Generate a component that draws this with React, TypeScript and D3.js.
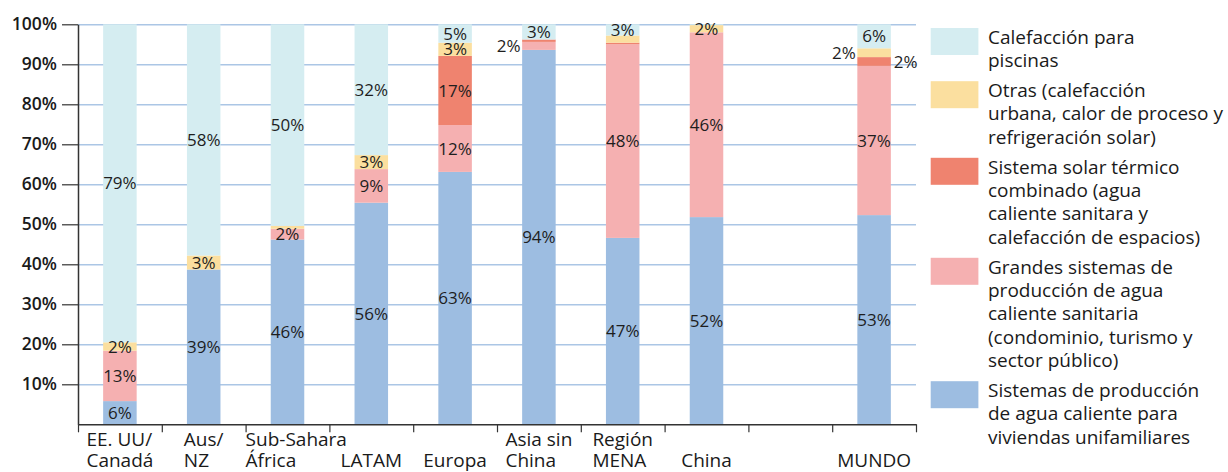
import React, { useRef, useEffect } from 'react';
import * as d3 from 'd3';

// categories (one entry per slot, lines of the label); slot 8 is empty in the source
const categories: string[][] = [
    ['EE. UU/', 'Canadá'],
    ['Aus/', 'NZ'],
    ['Sub-Sahara', 'África'],
    ['LATAM'],
    ['Europa'],
    ['Asia sin', 'China'],
    ['Región', 'MENA'],
    ['China'],
    [],
    ['MUNDO'],
];

// shares in %, bottom to top of each stack
const unifamiliares = [5.8, 38.7, 46.2, 55.4, 63.1, 93.6, 46.6, 51.8, null, 52.3];
const grandes = [12.6, 0, 2.7, 8.4, 11.7, 2.0, 48.4, 46.2, null, 37.3];
const combinado = [0, 0, 0, 0, 17.3, 0.6, 0.4, 0, null, 2.2];
const otras = [2.1, 3.5, 0.7, 3.5, 3.3, 0, 1.8, 1.8, null, 2.2];
const piscinas = [79.5, 57.8, 50.4, 32.7, 4.6, 3.8, 2.8, 0.2, null, 6.0];

// printed data labels
const unifamiliaresLbl = ['6%', '39%', '46%', '56%', '63%', '94%', '47%', '52%', null, '53%'];
const grandesLbl = ['13%', null, '2%', '9%', '12%', '2%', '48%', '46%', null, '37%'];
const combinadoLbl = [null, null, null, null, '17%', null, null, null, null, '2%'];
const otrasLbl = ['2%', '3%', null, '3%', '3%', null, null, '2%', null, '2%'];
const piscinasLbl = ['79%', '58%', '50%', '32%', '5%', '3%', '3%', null, null, '6%'];

const yTicks = [10, 20, 30, 40, 50, 60, 70, 80, 90, 100];

const seriesKeys = ['unifamiliares', 'grandes', 'combinado', 'otras', 'piscinas'];
const seriesValues: Record<string, (number | null)[]> = { unifamiliares, grandes, combinado, otras, piscinas };
const seriesLabels: Record<string, (string | null)[]> = {
    unifamiliares: unifamiliaresLbl,
    grandes: grandesLbl,
    combinado: combinadoLbl,
    otras: otrasLbl,
    piscinas: piscinasLbl,
};

// legend, top to bottom
const legendKeys = ['piscinas', 'otras', 'combinado', 'grandes', 'unifamiliares'];
const legendText: Record<string, string[]> = {
    piscinas: ['Calefacción para', 'piscinas'],
    otras: ['Otras (calefacción', 'urbana, calor de proceso y', 'refrigeración solar)'],
    combinado: ['Sistema solar térmico', 'combinado (agua', 'caliente sanitara y', 'calefacción de espacios)'],
    grandes: ['Grandes sistemas de', 'producción de agua', 'caliente sanitaria', '(condominio, turismo y', 'sector público)'],
    unifamiliares: ['Sistemas de producción', 'de agua caliente para', 'viviendas unifamiliares'],
};

const colors: Record<string, string> = {
    unifamiliares: '#9dbde1',
    grandes: '#f5b0b1',
    combinado: '#ef836f',
    otras: '#fbdf9f',
    piscinas: '#d5edf1',
};

// labels drawn beside the bar instead of inside
const outside: Record<string, string> = { '5:grandes': 'left', '9:otras': 'left', '9:combinado': 'right' };

const FONT = "'Open Sans', 'Noto Sans', sans-serif";
const W = 1228;
const H = 472;
const plot = { left: 78, right: 916, top: 24.3, bottom: 424.3 };

export default function App() {
    const ref = useRef<SVGSVGElement>(null);

    useEffect(() => {
        if (!ref.current) return;
        const svg = d3.select(ref.current);
        svg.selectAll('*').remove();

        const x = d3.scaleBand<string>()
            .domain(d3.range(categories.length).map(String))
            .range([plot.left, plot.right])
            .paddingInner(0.6)
            .paddingOuter(0.3);
        const y = d3.scaleLinear().domain([0, 100]).range([plot.bottom, plot.top]);
        const slots = d3.scaleLinear().domain([0, categories.length]).range([plot.left, plot.right]);

        /* gridlines */
        svg.append('g')
            .attr('transform', `translate(${plot.left},0)`)
            .call(d3.axisLeft(y).tickValues(yTicks).tickSize(-(plot.right - plot.left)).tickFormat(() => ''))
            .call(g => g.select('.domain').remove())
            .call(g => g.selectAll('line').attr('stroke', '#abc6e5').attr('stroke-width', 1.5));

        /* stacked bars */
        const rows = categories.map((_, i) => {
            const r: any = { idx: String(i) };
            seriesKeys.forEach(k => { r[k] = seriesValues[k][i] ?? 0; });
            return r;
        });
        const stacked = d3.stack().keys(seriesKeys)(rows);

        svg.append('g').selectAll('g').data(stacked).enter()
            .append('g')
            .attr('fill', d => colors[d.key])
            .selectAll('rect').data(d => d.filter(s => s[1] - s[0] > 0)).enter()
            .append('rect')
            .attr('x', d => x(d.data.idx as any)!)
            .attr('width', x.bandwidth())
            .attr('y', d => y(d[1]))
            .attr('height', d => y(d[0]) - y(d[1]));

        /* data labels */
        const lab = svg.append('g').attr('font-family', FONT).attr('font-size', 17).attr('fill', '#1e1e1e');
        stacked.forEach(layer => {
            layer.forEach((s, i) => {
                const txt = seriesLabels[layer.key][i];
                if (!txt) return;
                const side = outside[`${i}:${layer.key}`];
                const x0 = x(String(i))!;
                const cy = (y(s[0]) + y(s[1])) / 2;
                const t = lab.append('text').attr('y', cy).attr('dy', '0.36em').text(txt);
                if (side === 'left') t.attr('x', x0 - 1.5).attr('text-anchor', 'end');
                else if (side === 'right') t.attr('x', x0 + x.bandwidth() + 3).attr('text-anchor', 'start');
                else t.attr('x', x0 + x.bandwidth() / 2).attr('text-anchor', 'middle');
            });
        });

        /* y axis */
        svg.append('g')
            .attr('transform', `translate(${plot.left},0)`)
            .call(d3.axisLeft(y).tickValues(yTicks).tickSize(16).tickSizeOuter(0).tickPadding(5).tickFormat(d => d + '%'))
            .call(g => g.select('.domain').attr('stroke', '#333').attr('stroke-width', 1.5))
            .call(g => g.selectAll('line').attr('stroke', '#333').attr('stroke-width', 1.2))
            .call(g => g.selectAll('text')
                .attr('font-family', FONT).attr('font-size', 17.5).attr('font-weight', 600).attr('fill', '#1a1a1a'));

        /* x axis with ticks between slots */
        svg.append('g')
            .attr('transform', `translate(0,${plot.bottom})`)
            .call(d3.axisBottom(slots).ticks(categories.length).tickSize(8).tickSizeOuter(0).tickFormat(() => ''))
            .call(g => g.select('.domain').attr('stroke', '#333').attr('stroke-width', 1.5))
            .call(g => g.selectAll('line').attr('stroke', '#333').attr('stroke-width', 1.2));

        /* category labels: left aligned block, centred on the slot but not before its start */
        const cat = svg.append('g').attr('font-family', FONT).attr('font-size', 19).attr('fill', '#1a1a1a');
        categories.forEach((lines, i) => {
            if (!lines.length) return;
            const cx = x(String(i))! + x.bandwidth() / 2;
            const texts = lines.map((ln, j) =>
                cat.append('text')
                    .attr('y', 460 - (lines.length - 1 - j) * 21)
                    .attr('dy', '0.36em')
                    .text(ln));
            const w = d3.max(texts, t => (t.node() as SVGTextElement).getComputedTextLength()) || 0;
            const left = Math.max(slots(i), cx - w / 2);
            texts.forEach(t => t.attr('x', left));
        });

        /* legend */
        const lg = svg.append('g').attr('font-family', FONT).attr('font-size', 19).attr('fill', '#1a1a1a');
        let top = 28;
        const lineH = 23.4;
        legendKeys.forEach(k => {
            lg.append('rect')
                .attr('x', 930.7).attr('y', top)
                .attr('width', 47.7).attr('height', 27)
                .attr('fill', colors[k]);
            legendText[k].forEach((ln, j) => {
                lg.append('text')
                    .attr('x', 988)
                    .attr('y', top + 9 + j * lineH)
                    .attr('dy', '0.36em')
                    .text(ln);
            });
            top += legendText[k].length * lineH + 6.4;
        });
    }, []);

    return (
        <div style={{ position: 'absolute', left: 0, top: 0 }}>
            <svg ref={ref} width={W} height={H} style={{ display: 'block', background: '#fff' }} />
        </div>
    );
}
